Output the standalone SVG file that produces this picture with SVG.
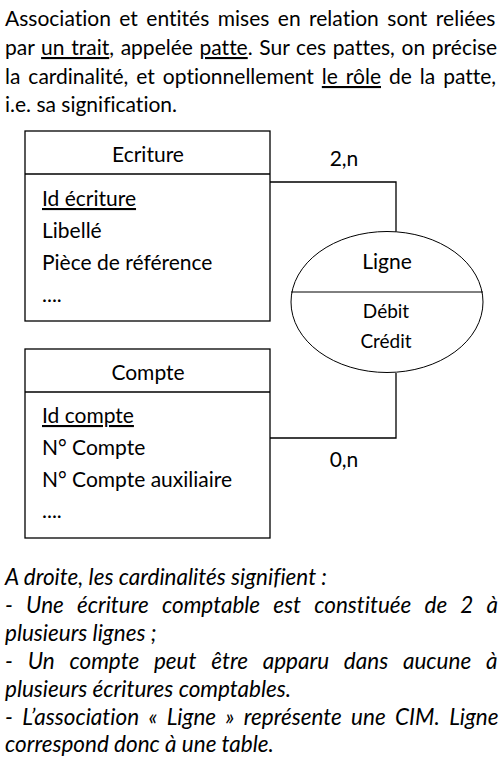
<svg xmlns="http://www.w3.org/2000/svg" width="503" height="761" viewBox="0 0 503 761">
<style>
text{font-family:Lato,"Liberation Sans",sans-serif;fill:#000;font-variant-ligatures:none}
.t{font-size:21px}
.i{font-size:22.5px;font-style:italic}
.b{font-size:21px}
.s{font-size:19px}
.u{text-decoration:underline}
.box{fill:#fff;stroke:#000;stroke-width:1.3}
.ln{fill:none;stroke:#000;stroke-width:1.3}
</style>
<rect width="503" height="761" fill="#fff"/>
<g id="intro">
<text class="t" x="5" y="26" word-spacing="3.1">Association et entités mises en relation sont reliées</text>
<text class="t" x="5" y="55" word-spacing="1.3">par <tspan class="u">un trait</tspan>, appelée <tspan class="u">patte</tspan>. Sur ces pattes, on précise</text>
<text class="t" x="5" y="84" word-spacing="2.6">la cardinalité, et optionnellement <tspan class="u">le rôle</tspan> de la patte,</text>
<text class="t" x="5" y="112">i.e. sa signification.</text>
</g>
<g id="connectors">
<polyline class="ln" points="270,182 396,182 396,232"/>
<polyline class="ln" points="396,373 396,438 270,438"/>
<text class="b" x="344" y="166" text-anchor="middle">2,n</text>
<text class="b" x="344" y="467" text-anchor="middle">0,n</text>
</g>
<g id="ecriture">
<rect class="box" x="25" y="131" width="245" height="190"/>
<line class="ln" x1="25" y1="174" x2="270" y2="174"/>
<text class="b" x="148" y="162" text-anchor="middle">Ecriture</text>
<text class="b u" x="42" y="206">Id écriture</text>
<text class="b" x="42" y="238">Libellé</text>
<text class="b" x="42" y="270">Pièce de référence</text>
<text class="b" x="42" y="302">....</text>
</g>
<g id="compte">
<rect class="box" x="25" y="349" width="245" height="189"/>
<line class="ln" x1="25" y1="392" x2="270" y2="392"/>
<text class="b" x="148" y="380" text-anchor="middle">Compte</text>
<text class="b u" x="42" y="423">Id compte</text>
<text class="b" x="42" y="455">N° Compte</text>
<text class="b" x="42" y="487">N° Compte auxiliaire</text>
<text class="b" x="42" y="518">....</text>
</g>
<g id="ligne">
<ellipse cx="387" cy="302" rx="96" ry="70.5" fill="#fff" stroke="#000" stroke-width="1"/>
<line x1="291" y1="292" x2="483" y2="292" stroke="#000" stroke-width="1"/>
<text class="b" x="387" y="269" text-anchor="middle">Ligne</text>
<text class="s" x="386" y="318" text-anchor="middle">Débit</text>
<text class="s" x="386" y="348" text-anchor="middle">Crédit</text>
</g>
<g id="notes">
<text class="i" x="5" y="585">A droite, les cardinalités signifient :</text>
<text class="i" x="5" y="613" word-spacing="7.9">- Une écriture comptable est constituée de 2 à</text>
<text class="i" x="5" y="641">plusieurs lignes ;</text>
<text class="i" x="5" y="669" word-spacing="9.5">- Un compte peut être apparu dans aucune à</text>
<text class="i" x="5" y="697">plusieurs écritures comptables.</text>
<text class="i" x="5" y="725" word-spacing="4.1">- L’association « Ligne » représente une CIM. Ligne</text>
<text class="i" x="5" y="752">correspond donc à une table.</text>
</g>
</svg>
